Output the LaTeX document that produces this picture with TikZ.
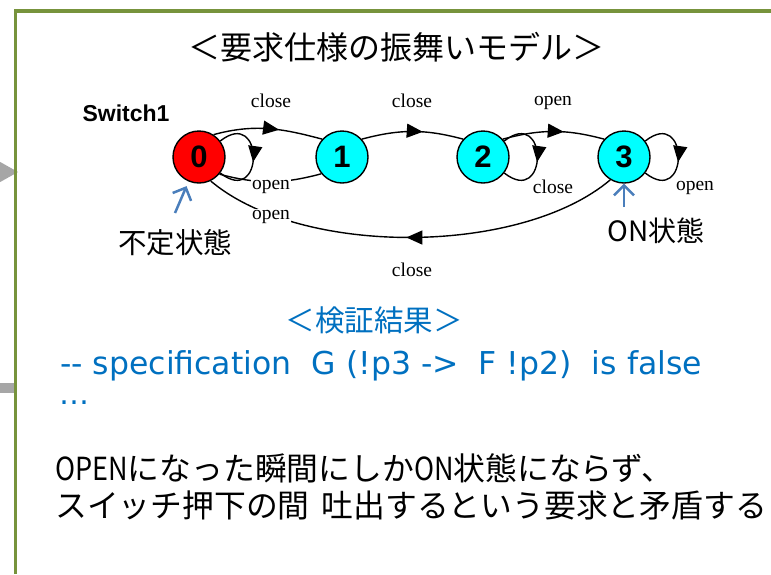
\documentclass[tikz,border=0pt]{standalone}
\usepackage{fontspec}
\usepackage{graphicx}
\newfontfamily\jpfont{Noto Sans CJK JP}
\newfontfamily\codefont{DejaVu Sans}
\newfontfamily\lblfont{Liberation Serif}
\newfontfamily\numfont{Liberation Sans}
\usetikzlibrary{arrows.meta,decorations.markings}

\definecolor{frameolive}{HTML}{77933C}
\definecolor{resultblue}{HTML}{0070C0}
\definecolor{pointblue}{HTML}{4A7EBB}
\definecolor{tabgray}{HTML}{A6A6A6}
\definecolor{statered}{HTML}{FF0000}
\definecolor{statecyan}{HTML}{00FFFF}

% narrow latin inside the japanese notes
\newcommand{\narrowlatin}[1]{\scalebox{0.85}[1]{#1}}

\tikzset{
  state/.style={circle, draw, line width=1.4pt, minimum size=52pt, inner sep=0pt,
    font=\numfont\bfseries\fontsize{31}{31}\selectfont},
  edge/.style={line width=1.4pt},
  midarrow/.style={postaction={decorate}, decoration={markings,
    mark=at position #1 with {\arrow{Triangle[length=16pt,width=14pt]}}}},
  lbl/.style={font=\lblfont\fontsize{19.5}{20}\selectfont, inner sep=1pt},
  pointer/.style={pointblue, line width=2.5pt, -{Straight Barb[length=10pt,width=20pt]}},
  jp/.style={font=\jpfont\fontsize{#1}{#1}\selectfont, inner sep=0pt},
}

\begin{document}
\begin{tikzpicture}[x=1pt, y=1pt]
\useasboundingbox (0,0) rectangle (771,-574);

% slide frame
\fill[tabgray] (-14,-154) -- (18,-172) -- (-14,-190) -- cycle;
\fill[tabgray] (0,-383) rectangle (16,-393);
\draw[frameolive, line width=3.5pt] (15.5,-574) -- (15.5,-11) -- (771,-11);

\node[jp=32] (title) at (396,-47) {＜要求仕様の振舞いモデル＞};
\node[font=\numfont\bfseries\fontsize{23}{23}\selectfont] (sw) at (126,-113) {Switch1};

% states
\node[state, fill=statered] (s0) at (199,-157) {0};
\node[state, fill=statecyan] (s1) at (342,-157) {1};
\node[state, fill=statecyan] (s2) at (483,-157) {2};
\node[state, fill=statecyan] (s3) at (624,-157) {3};

% transitions
\begin{scope}[edge]
\draw[midarrow=0.6] (s0.57) to[out=15,in=165] (s1.138);
\draw[midarrow=0.6] (s1.42) to[out=15,in=165] (s2.138);
\draw[midarrow=0.6] (s2.42) to[out=15,in=165] (s3.138);
\draw (s1.219) to[out=195,in=-15] (s0.-40);
\draw[midarrow=0.51] (s3.239) .. controls +(-90,-76) and +(90,-76) .. (s0.-64);

\draw[midarrow=0.55] (s0.37) .. controls +(38:56) and +(-38:56) .. (s0.-37);
\draw[midarrow=0.55] (s2.37) .. controls +(38:56) and +(-38:56) .. (s2.-37);
\draw[midarrow=0.55] (s3.37) .. controls +(38:56) and +(-38:56) .. (s3.-37);
\end{scope}

% event labels
\node[lbl] (c01) at (271,-100.5) {close};
\node[lbl] (c12) at (412,-100.5) {close};
\node[lbl] (o23) at (553,-102.5) {open};
\node[lbl, fill=white] (o10) at (271,-186.5) {open};
\node[lbl] (c22) at (553,-186.5) {close};
\node[lbl] (o33) at (695,-187.5) {open};
\node[lbl, fill=white] (o30) at (271,-216.5) {open};
\node[lbl] (c30) at (412,-270) {close};

% initial and ON markers
\node[jp=28.5] (undef) at (175,-243) {不定状態};
\node[jp=28] (onstate) at (656,-231) {ON状態};
\coordinate (undefTail) at (175,-213);
\coordinate (onTail) at (624,-207);
\draw[pointer, shorten >=5pt] (undefTail) -- (s0);
\draw[pointer] (onTail) -- (s3);

% check result
\begin{scope}[text=resultblue]
\node[jp=29.5] (restitle) at (374,-320) {＜検証結果＞};
\node[font=\codefont\fontsize{31.5}{31.5}\selectfont, inner sep=0pt, anchor=west] (spec) at (60,-366)
  {-{}- specification\ \ G (!p3 -{}>\ \ F !p2)\ \ is false};
\node[font=\codefont\fontsize{30}{30}\selectfont, inner sep=0pt, anchor=base west] (dots) at (59,-404) {…};
\end{scope}

\node[jp=31.8, anchor=west] (note1) at (55,-468)
  {\narrowlatin{OPEN}になった瞬間にしか\narrowlatin{ON}状態にならず、};
\node[jp=31.8, anchor=west] (note2) at (55,-505)
  {スイッチ押下の間\hspace{0.38em}吐出するという要求と矛盾する};

\end{tikzpicture}
\end{document}
